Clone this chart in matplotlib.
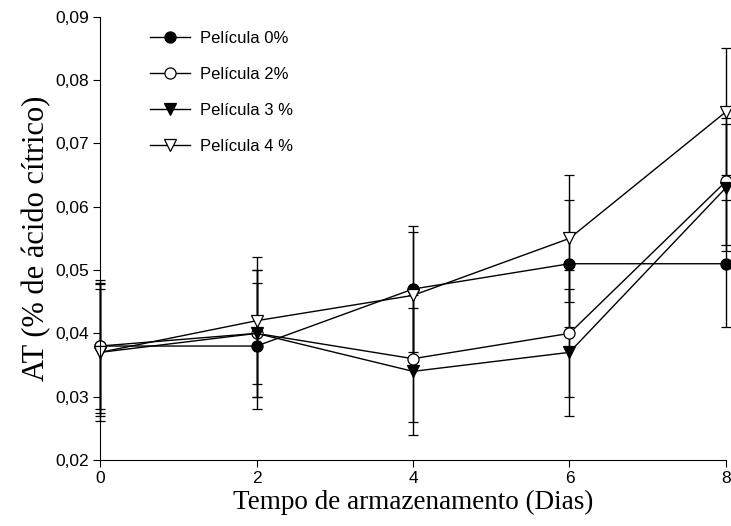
import matplotlib.pyplot as plt
from matplotlib.ticker import FuncFormatter

dias = [0, 2, 4, 6, 8]
p0 = [0.038, 0.038, 0.047, 0.051, 0.051]
p2 = [0.038, 0.040, 0.036, 0.040, 0.064]
p3 = [0.037, 0.040, 0.034, 0.037, 0.063]
p4 = [0.037, 0.042, 0.046, 0.055, 0.075]
e0 = [0.0105, 0.010, 0.010, 0.010, 0.010]
e2 = [0.010, 0.010, 0.010, 0.010, 0.010]
e3 = [0.0108, 0.010, 0.010, 0.010, 0.010]
e4 = [0.010, 0.010, 0.010, 0.010, 0.010]
labels = ["Película 0%", "Película 2%", "Película 3 %", "Película 4 %"]

fig = plt.figure(figsize=(7.31, 5.26), dpi=100)
ax = fig.add_axes([0.137, 0.1255, 0.856, 0.8425])

series = [(p0, e0, "o", "black"), (p2, e2, "o", "white"),
          (p3, e3, "v", "black"), (p4, e4, "v", "white")]
for (y, e, m, fc), lab in zip(series, labels):
    ax.errorbar(dias, y, yerr=e, color="black", lw=1, elinewidth=1,
                capsize=3.4, capthick=1, marker=m, markersize=8,
                markerfacecolor=fc, markeredgecolor="black", markeredgewidth=0.9,
                label=lab, clip_on=False)

ax.set_xlim(0, 8)
ax.set_ylim(0.02, 0.09)
ax.set_xticks([0, 2, 4, 6, 8])
ax.set_yticks([0.02, 0.03, 0.04, 0.05, 0.06, 0.07, 0.08, 0.09])
ax.yaxis.set_major_formatter(FuncFormatter(lambda v, p: ("%.2f" % v).replace(".", ",")))
ax.spines["top"].set_visible(False)
ax.spines["right"].set_visible(False)
ax.tick_params(direction="out", length=5, pad=3, labelsize=12.5)
for t in ax.get_xticklabels() + ax.get_yticklabels():
    t.set_fontfamily("Liberation Sans")

ax.set_xlabel("Tempo de armazenamento (Dias)", fontfamily="Liberation Serif", fontsize=19.5, labelpad=3)
ax.set_ylabel("AT (% de ácido cítrico)", fontfamily="Liberation Serif", fontsize=22, labelpad=3)

handles, labs = ax.get_legend_handles_labels()
handles = [h[0] for h in handles]
ax.legend(handles, labs, loc="upper left", bbox_to_anchor=(0.055, 1.003), frameon=False,
          prop={"family": "Liberation Sans", "size": 12}, handlelength=2.4,
          labelspacing=1.27, handletextpad=0.6)

fig.savefig("out.png", dpi=100)
